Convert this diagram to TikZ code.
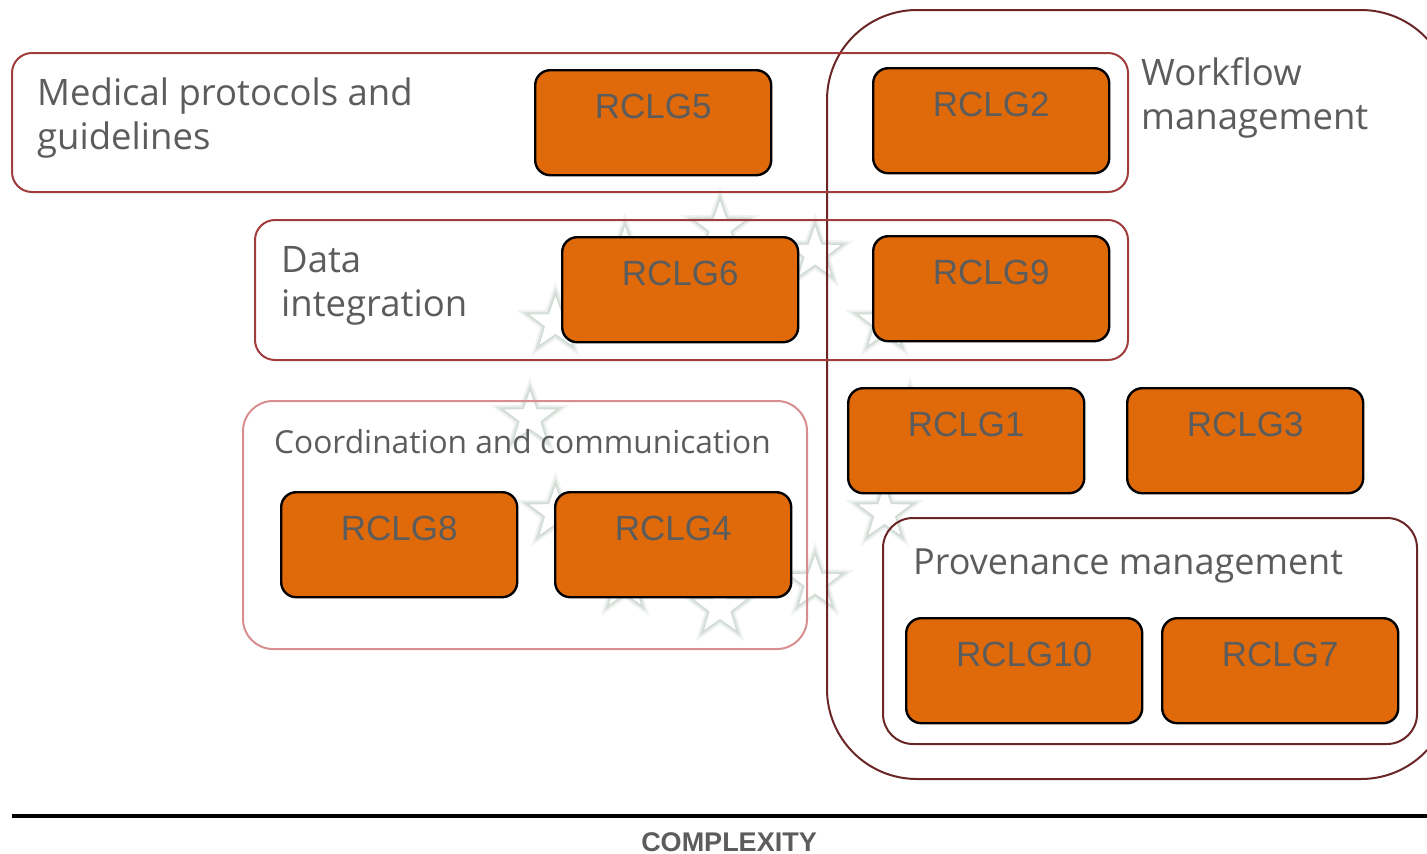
\documentclass[tikz,border=0pt]{standalone}
\usepackage{fontspec}
\usetikzlibrary{shapes.geometric}
\newfontfamily\grouplabel{Open Sans}
\newfontfamily\boxlabel{Liberation Sans}
\definecolor{rclgorange}{HTML}{E06A0A}
\definecolor{framered}{HTML}{A03C3C}
\definecolor{framepink}{HTML}{D88E8E}
\definecolor{framemaroon}{HTML}{6A2626}
\definecolor{labelgray}{HTML}{5C5C5C}
\definecolor{starglow}{HTML}{C3D1C7}
\tikzset{
  rclg/.style={draw=black, line width=2.4pt, fill=rclgorange, rounded corners=15pt,
    minimum width=236pt, minimum height=105pt, inner sep=0pt, anchor=north west},
  rclgtext/.style={font=\boxlabel\fontsize{35}{35}\selectfont, text=labelgray, anchor=base},
  group/.style={line width=2pt, rounded corners=20pt, inner sep=0pt, anchor=north west},
  grouptext/.style={font=\grouplabel\fontsize{36.5}{44}\selectfont, text=labelgray,
    anchor=base west, align=left, inner sep=0pt},
  eustar/.style={star, star points=5, star point ratio=2.5, minimum size=58pt, inner sep=0pt},
}
\begin{document}
\begin{tikzpicture}[x=1pt, y=-1pt]
\useasboundingbox (0,0) rectangle (1427,854);
\clip (0,0) rectangle (1427,854);

% faint ring of stars in the background
\foreach \i in {0,...,11} {
  \pgfmathsetmacro{\sx}{720+190*sin(30*\i)}
  \pgfmathsetmacro{\sy}{418-190*cos(30*\i)}
  \node[eustar, draw=starglow, draw opacity=0.25, line width=8pt] at (\sx,\sy) {};
  \node[eustar, draw=starglow, draw opacity=0.5, line width=4pt] at (\sx,\sy) {};
  \node[eustar, draw=starglow!80, line width=1pt, fill=white] (star\i) at (\sx,\sy) {};
}

% group frames
\node[group, draw=framemaroon, rounded corners=90pt, minimum width=624pt, minimum height=769pt] (workflow) at (826,9) {};
\node[group, draw=framered, minimum width=1116pt, minimum height=139pt] (medical) at (11,52) {};
\node[group, draw=framered, minimum width=873pt, minimum height=140pt] (dataint) at (254,219) {};
\node[group, draw=framepink, rounded corners=30pt, minimum width=564pt, minimum height=248pt] (coord) at (242,400) {};
\node[group, draw=framemaroon, rounded corners=30pt, minimum width=534pt, minimum height=226pt] (prov) at (882,517) {};

% group labels (anchored at the baseline of their last line)
\node[grouptext] (medicallabel) at (37,149) {Medical protocols and\\guidelines};
\node[grouptext] (workflowlabel) at (1141,129) {Workflow\\management};
\node[grouptext] (datalabel) at (281,316) {Data\\integration};
\node[grouptext, font=\grouplabel\fontsize{31.7}{40}\selectfont] (coordlabel) at (274,453) {Coordination and communication};
\node[grouptext, font=\grouplabel\fontsize{36}{42}\selectfont] (provlabel) at (913,574) {Provenance management};

% requirement boxes
\foreach \name/\x/\y in {RCLG5/534/69, RCLG2/872/67, RCLG6/561/236, RCLG9/872/235,
                         RCLG1/847/387, RCLG3/1126/387, RCLG8/280/491, RCLG4/554/491,
                         RCLG10/905/617, RCLG7/1161/617} {
  \node[rclg] (\name) at (\x,\y) {};
  \node[rclgtext] (\name label) at ([yshift=-49pt]\name.north) {\name};
}

% complexity axis
\coordinate (axisstart) at (12,816);
\coordinate (axisend) at (1427,816);
\draw[line width=3.5pt] (axisstart) -- (axisend);
\node[font=\boxlabel\bfseries\fontsize{27}{27}\selectfont, text=labelgray, anchor=base, inner sep=0pt]
  (complexity) at (729,851) {COMPLEXITY};
\end{tikzpicture}
\end{document}
